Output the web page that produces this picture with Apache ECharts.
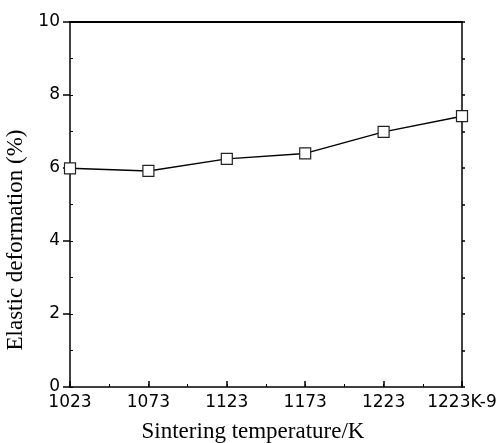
<!DOCTYPE html>
<html>
<head>
<meta charset="utf-8">
<script src="https://cdn.jsdelivr.net/npm/echarts@6/dist/echarts.min.js"></script>
<style>
  html, body { margin: 0; padding: 0; background: #fff; }
  #main { width: 497px; height: 443px; }
</style>
</head>
<body>
<div id="main"></div>
<script>
var categories = ['1023', '1073', '1123', '1173', '1223', '1223K-9'];
var elastic = [5.99, 5.92, 6.25, 6.40, 6.99, 7.42];
var yTicks = [0, 2, 4, 6, 8, 10];

var myChart = echarts.init(document.getElementById('main'));

var tickFont = { fontFamily: 'DejaVu Sans', fontSize: 17, color: '#000' };
var nameFont = { fontFamily: 'Liberation Serif', fontSize: 23, color: '#000' };
var blackLine = { color: '#000', width: 1.5 };

var option = {
    backgroundColor: '#fff',
    animation: false,
    grid: { left: 70, right: 35, top: 22, bottom: 56, containLabel: false, outerBoundsMode: 'none' },
    xAxis: [
        {
            type: 'category',
            data: categories,
            boundaryGap: false,
            position: 'bottom',
            axisLine: { onZero: false, lineStyle: blackLine },
            axisTick: { inside: true, length: 6, lineStyle: blackLine, alignWithLabel: true },
            axisLabel: Object.assign({ margin: 7, interval: 0 }, tickFont),
            splitLine: { show: false },
            name: 'Sintering temperature/K',
            nameLocation: 'middle',
            nameGap: 33,
            nameTextStyle: Object.assign({ padding: [0, 26, 0, 0] }, nameFont)
        },
        {
            // minor ticks between categories
            type: 'value',
            min: 0, max: (categories.length - 1) * 2, interval: 1,
            position: 'bottom',
            axisLine: { show: false, onZero: false },
            axisTick: { inside: true, length: 3, lineStyle: { color: '#000', width: 1 } },
            axisLabel: { show: false },
            splitLine: { show: false }
        },
        {
            type: 'category',
            data: categories,
            boundaryGap: false,
            position: 'top',
            axisLine: { onZero: false, lineStyle: { color: '#000', width: 2 } },
            axisTick: { show: false },
            axisLabel: { show: false }
        }
    ],
    yAxis: [
        {
            type: 'value',
            min: yTicks[0], max: yTicks[yTicks.length - 1], interval: 2,
            position: 'left',
            axisLine: { show: true, onZero: false, lineStyle: blackLine },
            axisTick: { show: true, inside: false, length: 7, lineStyle: blackLine },
            axisLabel: Object.assign({ margin: 10 }, tickFont),
            splitLine: { show: false },
            name: 'Elastic deformation (%)',
            nameLocation: 'middle',
            nameGap: 37,
            nameTextStyle: Object.assign({ padding: [0, 71, 0, 0] }, nameFont)
        },
        {
            // inner minor ticks on left axis
            type: 'value',
            min: 0, max: 10, interval: 1,
            position: 'left',
            axisLine: { show: false, onZero: false },
            axisTick: { show: true, inside: true, length: 3, lineStyle: { color: '#000', width: 1 } },
            axisLabel: { show: false },
            splitLine: { show: false }
        },
        {
            type: 'value',
            min: 0, max: 10, interval: 1,
            position: 'right',
            axisLine: { show: true, onZero: false, lineStyle: blackLine },
            axisTick: { show: true, inside: false, length: 3, lineStyle: { color: '#000', width: 1.5 } },
            axisLabel: { show: false },
            splitLine: { show: false }
        }
    ],
    series: [
        {
            type: 'line',
            xAxisIndex: 0,
            yAxisIndex: 0,
            data: elastic,
            symbol: 'rect',
            symbolSize: 11,
            lineStyle: { color: '#000', width: 1.5 },
            itemStyle: { color: '#fff', borderColor: '#222', borderWidth: 1.2 },
            z: 5
        }
    ]
};

myChart.setOption(option);
</script>
</body>
</html>
